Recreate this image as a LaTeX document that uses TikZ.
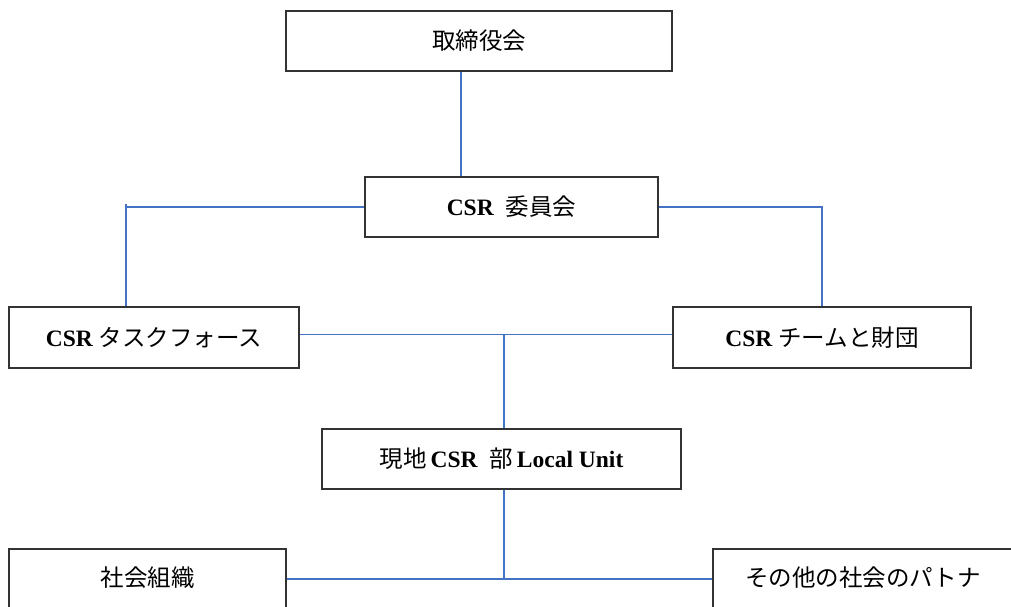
\documentclass[tikz,border=0pt]{standalone}
\usepackage{fontspec}
\setmainfont{Liberation Serif}
\newfontfamily\jp{Noto Sans CJK JP}
\definecolor{conn}{HTML}{4472C4}
\definecolor{frame}{HTML}{333333}
\begin{document}
\begin{tikzpicture}[x=1pt,y=-1pt,
  orgbox/.style={draw=frame,line width=1.6pt,fill=white,inner sep=0pt,minimum height=60pt,
    font=\fontsize{23.5}{27}\selectfont},
  link/.style={draw=conn,line width=1.2pt}]
\useasboundingbox (0,0) rectangle (1011,607);
\clip (0,0) rectangle (1011,607);
\fill[white] (0,0) rectangle (1011,607);
% coordinates for connector columns
\coordinate (x1) at (461,0);
\coordinate (x2) at (126,0);
\coordinate (x3) at (822,0);
\coordinate (x4) at (504,0);
\node[orgbox,minimum width=386pt] (board) at (479,41) {{\jp 取締役会}};
\node[orgbox,minimum width=293pt] (comm) at (511.5,207) {\textbf{CSR}\ \ {\jp 委員会}};
\node[orgbox,minimum width=290pt,minimum height=61pt] (task) at (154,337.5) {\textbf{CSR} {\jp タスクフォース}};
\node[orgbox,minimum width=298pt,minimum height=61pt] (team) at (822,337.5) {\textbf{CSR} {\jp チームと財団}};
\node[orgbox,minimum width=359pt] (local) at (501.5,459) {{\jp 現地}\,\textbf{CSR}\ \ {\jp 部}\,\textbf{Local Unit}};
\node[orgbox,minimum width=277pt] (soc) at (147.5,579) {\raisebox{4pt}{\jp 社会組織}};
\node[orgbox,minimum width=300pt] (other) at (863,579) {\raisebox{4pt}{\jp その他の社会のパトナ}};
% connectors
\draw[link] (board.south -| x1) -- (comm.north -| x1);
\draw[link] (comm.west) -| (task.north -| x2);
\draw[link] ([yshift=3pt]comm.west -| x2) -- (comm.west -| x2);
\draw[link] (comm.east) -| (team.north -| x3);
\draw[link] ([yshift=3pt]task.east) -- ([yshift=3pt]team.west);
\draw[link] ([yshift=3pt]task.east -| x4) -- (local.north -| x4);
\draw[link] (local.south -| x4) -- (soc.east -| x4);
\draw[link] (soc.east) -- (other.west);
\end{tikzpicture}
\end{document}
